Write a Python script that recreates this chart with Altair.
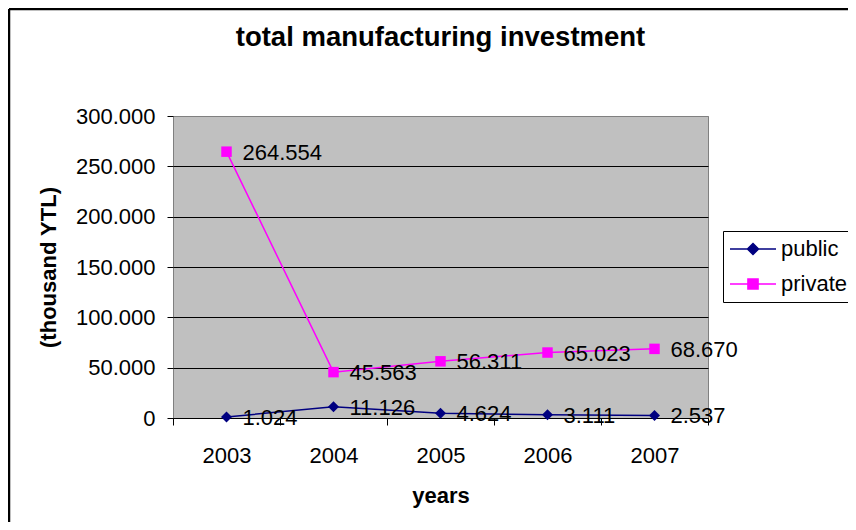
import altair as alt
import pandas as pd

years = ["2003", "2004", "2005", "2006", "2007"]
public = [1024, 11126, 4624, 3111, 2537]
private = [264554, 45563, 56311, 65023, 68670]
series_names = ["public", "private"]
series_colors = ["#000080", "#FF00FF"]
series_shapes = ["diamond", "square"]
series_sizes = [121, 110]
y_ticks = [0, 50000, 100000, 150000, 200000, 250000, 300000]

rows = []
for s, vals in zip(series_names, [public, private]):
    for yr, v in zip(years, vals):
        rows.append({"year": yr, "series": s, "value": v})
df = pd.DataFrame(rows)

FONT = "Liberation Sans"
W, H = 535, 302

x_enc = alt.X(
    "year:O",
    scale=alt.Scale(type="band", paddingInner=0, paddingOuter=0),
    axis=alt.Axis(
        title="years", titleFontWeight="bold", labelAngle=0, tickBand="extent",
        tickSize=7, labelPadding=20, titlePadding=19, domain=True, grid=False,
        domainColor="black", tickColor="black",
    ),
)
y_enc = alt.Y(
    "value:Q",
    scale=alt.Scale(domain=[0, 300000], nice=False),
    axis=alt.Axis(
        title="(thousand YTL)", titleFontWeight="bold", values=y_ticks, format=",.0f",
        grid=True, domain=False, tickSize=6, labelPadding=12, titlePadding=15,
        gridColor={"condition": {"test": "datum.value === 300000", "value": "#808080"}, "value": "black"},
    ),
)
cscale = alt.Scale(domain=series_names, range=series_colors)

base = alt.Chart(df)

layers = []
for s, col, shp, sz in zip(series_names, series_colors, series_shapes, series_sizes):
    sub = base.transform_filter(alt.datum.series == s)
    layers.append(sub.mark_line(strokeWidth=1.5, color=col).encode(x=x_enc, y=y_enc))
    layers.append(
        sub.mark_point(shape=shp, filled=True, size=sz, color=col, opacity=1).encode(x=x_enc, y=y_enc)
    )

labels = base.mark_text(
    align="left", baseline="middle", dx=16, dy=1, fontSize=22, font=FONT, color="black"
).encode(x=x_enc, y=y_enc, text=alt.Text("value:Q", format=",.0f"))
layers.append(labels)

diamond_path = "M-1,0H1M0,-0.24L0.24,0L0,0.24L-0.24,0Z"
square_path = "M-1,0H1M-0.22,-0.22H0.22V0.22H-0.22Z"

leg = alt.Legend(
    title=None, orient="none", legendX=550, legendY=115, padding=6,
    strokeColor="black", fillColor="white", symbolSize=2116, symbolStrokeWidth=1.5,
    symbolOpacity=1,
    labelFont=FONT, labelFontSize=22, labelColor="black", labelOffset=4,
    rowPadding=11, clipHeight=24,
)
legend_layer = base.mark_point(filled=True, opacity=0).encode(
    x=x_enc, y=y_enc,
    fill=alt.Fill("series:N", scale=cscale, legend=leg),
    stroke=alt.Stroke("series:N", scale=cscale, legend=leg),
    shape=alt.Shape("series:N", scale=alt.Scale(domain=series_names, range=[diamond_path, square_path]), legend=leg),
)
layers.append(legend_layer)

frame_df = pd.DataFrame({"k": [0]})
border_left = alt.Chart(frame_df).mark_rule(color="black", strokeWidth=2.5).encode(
    x=alt.value(-164), y=alt.value(-107), y2=alt.value(H + 110)
)
border_top = alt.Chart(frame_df).mark_rule(color="black", strokeWidth=2.5).encode(
    x=alt.value(-164), x2=alt.value(W + 150), y=alt.value(-107)
)
layers += [border_left, border_top]

chart = alt.layer(*layers).properties(
    width=W, height=H,
    autosize=alt.AutoSizeParams(type="none"),
    padding={"left": 165, "top": 108, "right": 140, "bottom": 104},
    title=alt.Title(
        "total manufacturing investment", fontSize=27.5, font=FONT, fontWeight="bold",
        anchor="middle", frame="group", offset=0, dy=66, baseline="alphabetic", color="black",
    ),
).configure(
    locale={"number": {"decimal": ",", "thousands": ".", "grouping": [3], "currency": ["", ""]}},
    background="white",
).configure_view(
    fill="#C0C0C0", stroke="#808080", strokeWidth=1
).configure_axis(
    labelFont=FONT, titleFont=FONT, labelFontSize=22, titleFontSize=22,
    labelColor="black", titleColor="black", tickColor="black",
)

chart.save("out.html", embed_options={"renderer": "svg", "actions": False})
